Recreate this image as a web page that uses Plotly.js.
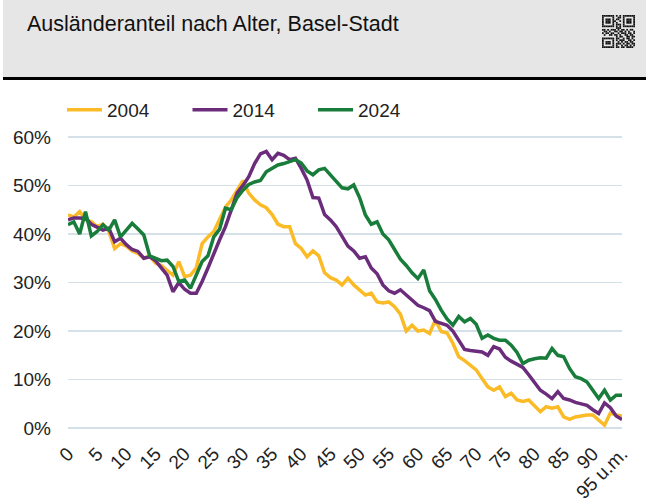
<!DOCTYPE html>
<html>
<head>
<meta charset="utf-8">
<script src="https://cdn.plot.ly/plotly-3.0.1.min.js"></script>
<style>
html,body{margin:0;padding:0;background:#fff;}
#chart{width:646px;height:504px;}
</style>
</head>
<body>
<div id="chart"></div>
<script>
// Age (years); last category is "95 und mehr"
const ages = Array.from({length: 96}, (_, i) => i);
const tickVals = [0,5,10,15,20,25,30,35,40,45,50,55,60,65,70,75,80,85,90,95];
const tickLabels = ["0","5","10","15","20","25","30","35","40","45","50","55","60","65","70","75","80","85","90","95 u.m."];
const yTicks = [0,10,20,30,40,50,60];
const yTickLabels = ["0%","10%","20%","30%","40%","50%","60%"];

// Ausländeranteil in % by age
const share2004 = [43.9,43.5,44.6,43,42.5,41.5,42,40.5,37,38,37.5,36.5,36,35,35.5,34,33.5,32.5,31.5,34.3,
  31.2,31.5,33,38,39.4,40.5,43,45.5,47,49,51,48.4,47,46,45.4,44,42,41.5,41.5,38,
  37,35.3,36.5,35.5,32,31,30.5,29.5,30.9,29.5,28.5,27.4,27.8,26,25.8,26,25,23.5,20,21.2,
  20,20.2,19.5,22.3,19.9,19.6,17.5,14.7,13.9,13,12,10.2,8.5,7.8,8.5,6.5,7.2,5.8,5.5,5.8,
  4.7,3.4,4.4,4.1,4.4,2.3,1.8,2.3,2.5,2.7,2.7,1.6,0.6,3.1,2.7,2.5];
const share2014 = [42.9,43.3,43.3,43.2,42,41.3,40.8,41.2,38.4,39.1,37.8,36.8,36.4,35,35.3,34.5,33,31.5,28.1,30,
  28.6,27.8,27.8,30.2,33,36,38.8,41.5,45,48.4,50,51.8,54.5,56.5,57,55.3,56.6,56.2,55.3,55.6,
  53.5,51.1,47.5,47.4,44,42.9,41.5,39.5,37.5,36.5,35,35.3,33,31.8,29.5,28.3,27.8,28.5,27.5,26.3,
  25.3,24.8,24.2,22,21.6,21.2,20,18,16.2,16,15.9,15.7,15,16.8,16.3,14.6,13.8,13.2,12.5,11,
  9.5,7.8,7,6.1,7.5,6.1,5.8,5.3,5,4.7,3.8,3,5.2,4.2,2.5,1.8];
const share2024 = [41.9,42.5,40,44.6,39.6,40.5,41.9,40.8,42.9,39.4,40.8,42.2,41,39.8,35.5,35,34.5,34.6,33.3,30.2,
  30.5,28.8,31.5,34.3,35.5,39.4,41,45.3,45,47.5,49,50.2,50.7,51,52.8,53.5,54.2,54.5,54.9,55.3,
  54.6,53,52.2,53.2,53.5,52.2,51,49.5,49.3,50.1,47.5,43.9,42,42.5,40,38.8,36.8,34.8,33.5,32,
  30.8,32.6,28.3,26.5,24.3,22.5,21.2,23,21.9,22.6,21.4,18.5,19.2,18.5,18.1,18.1,17.1,15.6,13.3,14,
  14.3,14.5,14.4,16.4,15,14.7,12.3,10.6,10.2,9.5,7.8,6.1,7.8,5.8,6.8,6.8];

const seriesNames = ["2004","2014","2024"];
const seriesColors = ["#fbbb27","#6b2c7b","#187c3a"];
const seriesData = [share2004, share2014, share2024];

const W = 646, H = 504;
const M = {l: 68, r: 24, t: 132, b: 71};
const pw = W - M.l - M.r, ph = H - M.t - M.b;
const px = x => (x - M.l) / pw;          // pixel -> paper x
const py = y => (H - M.b - y) / ph;      // pixel -> paper y

const traces = seriesData.map((vals, i) => ({
  type: 'scatter', mode: 'lines', x: ages, y: vals, name: seriesNames[i],
  line: {color: seriesColors[i], width: 3.5}, hoverinfo: 'skip'
}));

// header box decoration
const shapes = [
  {type:'rect', xref:'paper', yref:'paper', x0:px(3), x1:px(646), y0:py(77), y1:py(0), fillcolor:'#e6e6e6', line:{width:0}, layer:'below'},
  {type:'rect', xref:'paper', yref:'paper', x0:px(3), x1:px(646), y0:py(80), y1:py(77), fillcolor:'#000', line:{width:0}, layer:'below'}
];
// QR-like icon (decorative)
const qr = [
  "1111111010101111111",
  "1000001001101000001",
  "1011101011001011101",
  "1011101100101011101",
  "1011101010001011101",
  "1000001011101000001",
  "1111111010101111111",
  "0000000011100000000",
  "1101011101011010110",
  "0110100110110101001",
  "1011011001011101101",
  "0100110110100110110",
  "0000000010110011011",
  "1111111011001011010",
  "1000001010111001101",
  "1011101001010110110",
  "1011101011101011011",
  "1000001010010110101",
  "1111111011011011110"
];
const qx0 = 602, qy0 = 15, qs = 33/19;
qr.forEach((row, r) => {
  for (let c = 0; c < row.length; c++) {
    if (row[c] === '1') {
      shapes.push({type:'rect', xref:'paper', yref:'paper',
        x0:px(qx0 + c*qs), x1:px(qx0 + (c+1)*qs), y0:py(qy0 + (r+1)*qs), y1:py(qy0 + r*qs),
        fillcolor:'#111', line:{width:0}, layer:'below'});
    }
  }
});

const font = "'Liberation Sans', Arial, sans-serif";

const layout = {
  width: W, height: H,
  margin: M,
  paper_bgcolor: '#fff', plot_bgcolor: '#fff',
  font: {family: font, color: '#222', size: 18},
  title: {text: 'Ausländeranteil nach Alter, Basel-Stadt', x: 27/W, xanchor: 'left', xref: 'container',
          y: 1 - 23/H, yanchor: 'middle', yref: 'container',
          font: {family: font, size: 21.5, color: '#111'}},
  showlegend: true,
  legend: {orientation: 'h', x: px(62), xanchor: 'left', y: py(110), yanchor: 'middle',
           font: {family: font, size: 19, color: '#222'}, itemwidth: 35,
           entrywidth: 75.5, entrywidthmode: 'pixels',
           bgcolor: 'rgba(0,0,0,0)', traceorder: 'normal'},
  xaxis: {range: [0, 95], tickvals: tickVals, ticktext: tickLabels, tickangle: -45,
          showgrid: false, zeroline: false, showline: false, ticks: '',
          ticklabelstandoff: 5,
          tickfont: {family: font, size: 19, color: '#222'}, fixedrange: true},
  yaxis: {range: [-1, 61], tickvals: yTicks, ticktext: yTickLabels, showgrid: true,
          gridcolor: '#d4e1e9', gridwidth: 1.5, zeroline: false, showline: false, ticks: '',
          ticklabelstandoff: 16,
          tickfont: {family: font, size: 19, color: '#222'}, fixedrange: true},
  shapes: shapes
};

Plotly.newPlot('chart', traces, layout, {displayModeBar: false, staticPlot: true});
</script>
</body>
</html>
